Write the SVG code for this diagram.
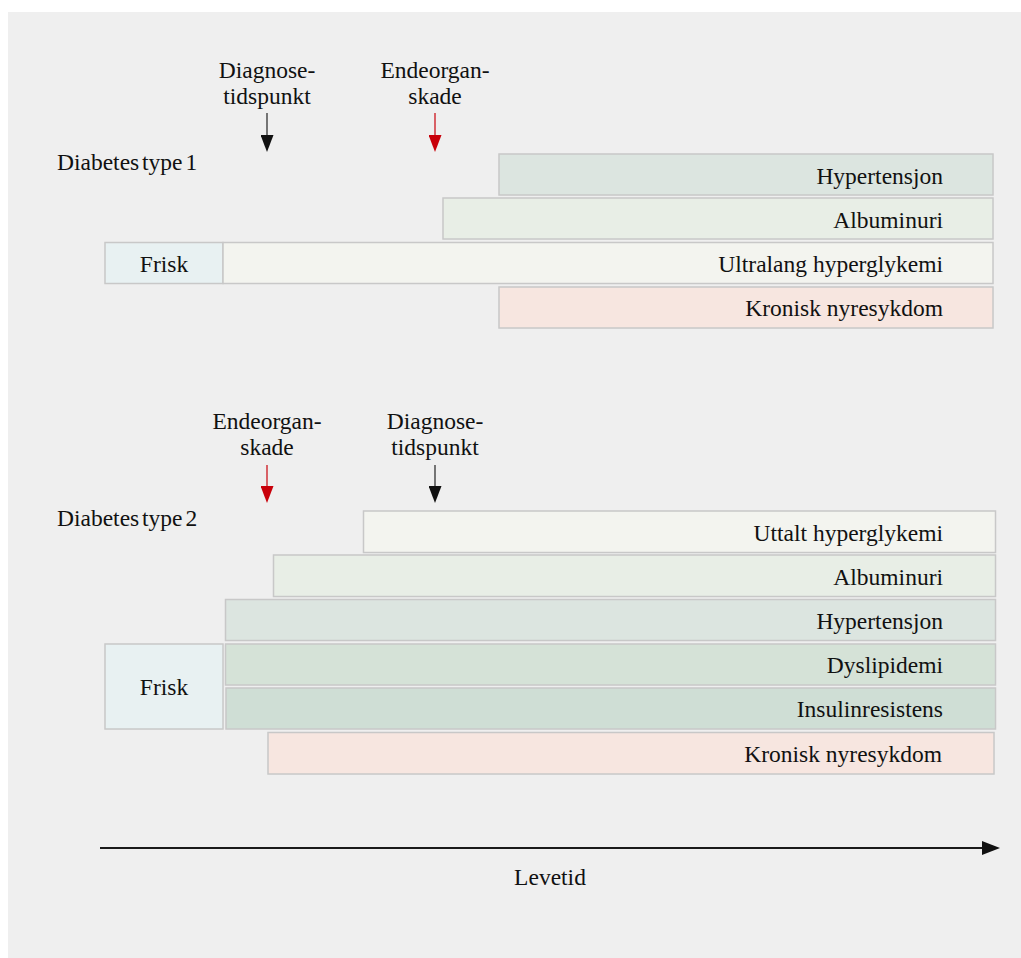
<svg xmlns="http://www.w3.org/2000/svg" width="1021" height="958" viewBox="0 0 1021 958">
  <defs>
    <style>
      text { font-family: "Liberation Serif", "Times New Roman", serif; font-size: 23.5px; fill: #111; }
      .r { text-anchor: end; }
      .c { text-anchor: middle; }
      .t { word-spacing: -3px; }
      .bar { stroke: #c8c8c8; stroke-width: 1.5; }
      .hyp { fill: #dce5e0; }
      .alb { fill: #e8eee6; }
      .gly { fill: #f3f4ef; }
      .ckd { fill: #f7e6e0; }
      .frisk { fill: #e8f1f2; }
      .dys { fill: #d5e2d7; }
      .ins { fill: #cfded5; }
      .arr-k { stroke: #222; stroke-width: 1.2; fill: none; }
      .arr-r { stroke: #c8000a; stroke-width: 1.2; fill: none; }
    </style>
    <marker id="mk" markerUnits="userSpaceOnUse" markerWidth="17" markerHeight="13" refX="0" refY="6.5" orient="auto" viewBox="0 0 17 13">
      <path d="M0,0 L17,6.5 L0,13 z" fill="#111"/>
    </marker>
    <marker id="mr" markerUnits="userSpaceOnUse" markerWidth="17" markerHeight="13" refX="0" refY="6.5" orient="auto" viewBox="0 0 17 13">
      <path d="M0,0 L17,6.5 L0,13 z" fill="#c8000a"/>
    </marker>
    <marker id="mt" markerUnits="userSpaceOnUse" markerWidth="18" markerHeight="14" refX="0" refY="7" orient="auto" viewBox="0 0 18 14">
      <path d="M0,0 L18,7 L0,14 z" fill="#111"/>
    </marker>
  </defs>

  <rect x="0" y="0" width="1021" height="958" fill="#ffffff"/>
  <rect x="8" y="12" width="1013" height="946" fill="#efefef"/>

  <!-- Type 1 -->
  <g id="t1-title"><text class="t" x="57" y="170">Diabetes type 1</text></g>
  <g id="t1-diagnose">
    <text class="c" x="267" y="78">Diagnose-</text>
    <text class="c" x="267" y="104">tidspunkt</text>
  </g>
  <g id="t1-endeorgan">
    <text class="c" x="435" y="78">Endeorgan-</text>
    <text class="c" x="435" y="104">skade</text>
  </g>
  <g id="t1-hyp"><rect class="bar hyp" x="499" y="154" width="494" height="41"/><text class="r" x="943" y="183.5">Hypertensjon</text></g>
  <g id="t1-alb"><rect class="bar alb" x="443" y="198" width="550" height="41"/><text class="r" x="943" y="227.5">Albuminuri</text></g>
  <g id="t1-frisk"><rect class="bar frisk" x="105" y="242.5" width="118" height="41"/><text class="c" x="164" y="271.5">Frisk</text></g>
  <g id="t1-gly"><rect class="bar gly" x="223" y="242.5" width="770" height="41"/><text class="r" x="943" y="271.5">Ultralang hyperglykemi</text></g>
  <g id="t1-ckd"><rect class="bar ckd" x="499" y="287" width="494" height="41"/><text class="r" x="943" y="316">Kronisk nyresykdom</text></g>

  <!-- Type 2 -->
  <g id="t2-title"><text class="t" x="57" y="526">Diabetes type 2</text></g>
  <g id="t2-endeorgan">
    <text class="c" x="267" y="429">Endeorgan-</text>
    <text class="c" x="267" y="455">skade</text>
  </g>
  <g id="t2-diagnose">
    <text class="c" x="435" y="429">Diagnose-</text>
    <text class="c" x="435" y="455">tidspunkt</text>
  </g>
  <g id="t2-gly"><rect class="bar gly" x="363.5" y="511" width="632" height="41.5"/><text class="r" x="943" y="540.5">Uttalt hyperglykemi</text></g>
  <g id="t2-alb"><rect class="bar alb" x="273.5" y="555" width="722" height="41.5"/><text class="r" x="943" y="584.5">Albuminuri</text></g>
  <g id="t2-hyp"><rect class="bar hyp" x="225.5" y="599.5" width="770" height="41"/><text class="r" x="943" y="628.5">Hypertensjon</text></g>
  <g id="t2-dys"><rect class="bar dys" x="225.5" y="644" width="770" height="41"/><text class="r" x="943" y="673">Dyslipidemi</text></g>
  <g id="t2-ins"><rect class="bar ins" x="226" y="688" width="769.5" height="41"/><text class="r" x="943" y="717">Insulinresistens</text></g>
  <g id="t2-frisk"><rect class="bar frisk" x="105" y="644" width="118" height="85"/><text class="c" x="164" y="695">Frisk</text></g>
  <g id="t2-ckd"><rect class="bar ckd" x="268" y="732.5" width="726" height="41.5"/><text class="r" x="942" y="761.5">Kronisk nyresykdom</text></g>

  <!-- Axis label -->
  <g id="axis-label"><text class="c" x="550" y="885">Levetid</text></g>

  <!-- Connectors -->
  <g id="connectors">
    <line class="arr-k" x1="267" y1="113" x2="267" y2="135" marker-end="url(#mk)"/>
    <line class="arr-r" x1="435" y1="113" x2="435" y2="135" marker-end="url(#mr)"/>
    <line class="arr-r" x1="267" y1="465" x2="267" y2="486" marker-end="url(#mr)"/>
    <line class="arr-k" x1="435" y1="465" x2="435" y2="486" marker-end="url(#mk)"/>
    <line x1="100" y1="848" x2="982" y2="848" stroke="#1a1a1a" stroke-width="2" marker-end="url(#mt)"/>
  </g>
</svg>
